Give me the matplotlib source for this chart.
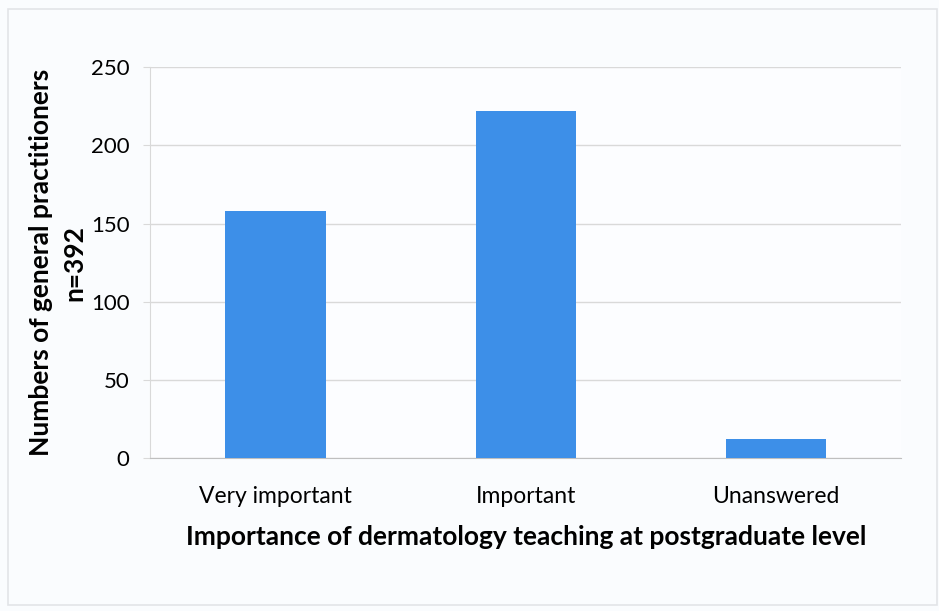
import matplotlib
matplotlib.use('Agg')
import matplotlib.pyplot as plt
from matplotlib.patches import Rectangle

plt.rcParams['font.family'] = ['Lato', 'DejaVu Sans']

# ---- data ----
categories = ['Very important', 'Important', 'Unanswered']
counts = [158, 222, 12]
y_ticks = [0, 50, 100, 150, 200, 250]

bar_color = '#3d8fe8'
grid_color = '#d9d9d9'

fig = plt.figure(figsize=(9.39, 6.11), dpi=100, facecolor='#fafcfe')
ax = fig.add_axes([0.160, 0.250, 0.800, 0.640])
ax.set_facecolor('#fcfdff')

# faint chart frame
fig.patches.append(Rectangle((0.008, 0.01), 0.99, 0.975, transform=fig.transFigure,
                             fill=False, edgecolor='#e2e4e8', linewidth=1.2))

x = range(len(categories))
ax.bar(x, counts, width=0.4, color=bar_color, zorder=3)

ax.set_xlim(-0.5, len(categories) - 0.5)
ax.set_ylim(0, 250)
ax.set_yticks(y_ticks)
ax.set_xticks(list(x))
ax.set_xticklabels(categories, fontsize=16.5)
ax.tick_params(axis='y', labelsize=16, length=5, color=grid_color, pad=10)
ax.tick_params(axis='x', length=0, pad=20)

ax.yaxis.grid(True, color=grid_color, linewidth=1, zorder=0)
for side in ['top', 'right']:
    ax.spines[side].set_visible(False)
ax.spines['left'].set_color(grid_color)
ax.spines['bottom'].set_color('#bfbfbf')

ax.set_xlabel('Importance of dermatology teaching at postgraduate level',
              fontsize=19, fontweight='bold', labelpad=13)
ax.set_ylabel('Numbers of general practitioners\nn=392',
              fontsize=19, fontweight='bold', labelpad=3, linespacing=1.5)

plt.savefig('out.png', dpi=100, facecolor=fig.get_facecolor())
